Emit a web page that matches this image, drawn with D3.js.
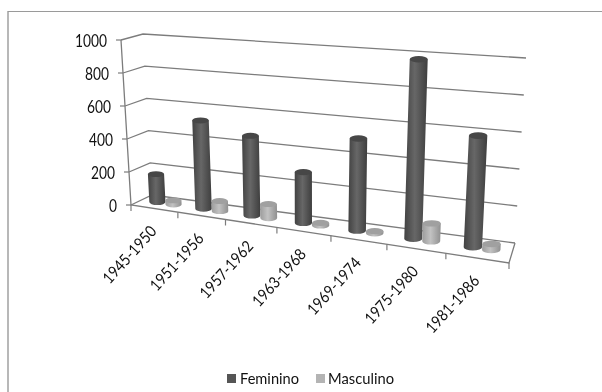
<!DOCTYPE html>
<html><head><meta charset="utf-8">
<script src="https://cdn.jsdelivr.net/npm/d3@7"></script>
<style>html,body{margin:0;padding:0;background:#fff}svg{display:block;filter:blur(0.35px)}text{font-family:Lato,"Open Sans",sans-serif;fill:#111}</style>
</head><body><svg id="c" width="602" height="392"></svg>
<script>
const categories=["1945-1950","1951-1956","1957-1962","1963-1968","1969-1974","1975-1980","1981-1986"];
const feminino=[170,525,465,290,514,978,594];
const masculino=[25,60,82,15,12,98,32];
const yTicks=[0,200,400,600,800,1000];
const seriesNames=["Feminino","Masculino"];

const svg=d3.select("#c");
const defs=svg.append("defs");
function grad(id,stops){const g=defs.append("linearGradient").attr("id",id);
 stops.forEach(s=>g.append("stop").attr("offset",s[0]).attr("stop-color",s[1]));}
grad("gF",[[0,"#424242"],[.45,"#676767"],[1,"#3e3e3e"]]);
grad("gM",[[0,"#9c9c9c"],[.45,"#c2c2c2"],[1,"#909090"]]);
const topCol=["#474747","#a0a0a0"];

// chart frame: only the top and left edges are visible
svg.append("line").attr("x1",8).attr("x2",602).attr("y1",11.5).attr("y2",11.5).attr("stroke","#9a9a9a").attr("stroke-width",1.2);
svg.append("line").attr("x1",8).attr("x2",8).attr("y1",11).attr("y2",392).attr("stroke","#9a9a9a").attr("stroke-width",1.4);

// perspective floor: position along x (category index), depth 0 front, 1 back
const along=d3.scaleLinear().domain(d3.range(8)).range([0,.124,.25,.386,.529,.677,.833,1]);
const yVal=d3.scaleLinear().domain([0,1000]).range([0,1]);
const frontX0=d3.scaleLinear().domain([0,1]).range([131,121]);
const frontY0=d3.scaleLinear().domain([0,1]).range([205,40]);
const frontX1=d3.scaleLinear().domain([0,1]).range([509,519]);
const frontY1=d3.scaleLinear().domain([0,1]).range([263,68]);
const backX0=d3.scaleLinear().domain([0,1]).range([152,143]);
const backY0=d3.scaleLinear().domain([0,1]).range([195,34]);
const backX1=d3.scaleLinear().domain([0,1]).range([515,526]);
const backY1=d3.scaleLinear().domain([0,1]).range([243,58]);
function project(t,depth,v){
  const u=along(t), h=yVal(v), m=(a,b,k)=>a+(b-a)*k;
  const fx=m(frontX0(h),frontX1(h),u), fy=m(frontY0(h),frontY1(h),u);
  const bx=m(backX0(h),backX1(h),u), by=m(backY0(h),backY1(h),u);
  return [m(fx,bx,depth),m(fy,by,depth)];
}
const line=d3.line();
const axisCol="#7c7c7c";
// gridlines: left wall + back wall
yTicks.forEach(v=>{
  svg.append("path").attr("d",line([project(0,0,v),project(0,1,v),project(7,1,v)]))
   .attr("fill","none").attr("stroke",axisCol).attr("stroke-width",1.3);
  const p=project(0,0,v), s=String(v);
  svg.append("text").attr("x",p[0]-14).attr("y",p[1]+1).attr("dy","0.34em")
   .attr("text-anchor","end").attr("font-size",17).attr("textLength",s.length*8).attr("lengthAdjust","spacingAndGlyphs").text(s);
  svg.append("line").attr("x1",p[0]-5).attr("x2",p[0]).attr("y1",p[1]).attr("y2",p[1]).attr("stroke",axisCol).attr("stroke-width",1.2);
});
// axis + floor outline
svg.append("path").attr("d",line([project(0,0,1000),project(0,0,0),project(7,0,0),project(7,1,0)]))
  .attr("fill","none").attr("stroke",axisCol).attr("stroke-width",1.3);
d3.range(8).forEach(i=>{const p=project(i,0,0);
  svg.append("line").attr("x1",p[0]).attr("x2",p[0]).attr("y1",p[1]).attr("y2",p[1]+6).attr("stroke",axisCol).attr("stroke-width",1.2);});
// category labels
categories.forEach((c,i)=>{const p=project(i+.5,0,0);
  svg.append("text").attr("transform",`translate(${p[0]-3},${p[1]+18}) rotate(-48)`).attr("text-anchor","end")
   .attr("dy","0.5em").attr("font-size",16).attr("textLength",71).attr("lengthAdjust","spacingAndGlyphs").text(c);});

const radius=d3.scaleLinear().domain([0,1]).range([8,9.3]);
function cylinder(t,v,s){
  const r=radius(along(t)), ry=r*.36;
  const ctr=project(t,.5,0);
  const dir=s===0?-1:1;
  const b=[ctr[0]+1+dir*r,ctr[1]+dir*r*.15];
  const topC=project(t,.5,v);
  const a=[topC[0]+1+dir*r,topC[1]+dir*r*.15];
  const g=svg.append("g");
  g.append("path").attr("d",`M${a[0]-r},${a[1]}L${b[0]-r},${b[1]}A${r},${ry} 0 0 0 ${b[0]+r},${b[1]}L${a[0]+r},${a[1]}Z`)
    .attr("fill",`url(#${s===0?"gF":"gM"})`);
  g.append("ellipse").attr("cx",a[0]).attr("cy",a[1]).attr("rx",r).attr("ry",ry).attr("fill",topCol[s]);
}
categories.forEach((c,i)=>{
  cylinder(i+.5,feminino[i],0);
  cylinder(i+.5,masculino[i],1);
});
// legend
const legendX=[227,316], legendTextX=[240,328], legendW=[59,66];
seriesNames.forEach((n,i)=>{
  svg.append("rect").attr("x",legendX[i]).attr("y",374).attr("width",9).attr("height",9).attr("fill",i?"#b4b4b4":"#555");
  svg.append("text").attr("x",legendTextX[i]).attr("y",384).attr("font-size",16).attr("textLength",legendW[i]).attr("lengthAdjust","spacingAndGlyphs").text(n);
});
</script></body></html>
